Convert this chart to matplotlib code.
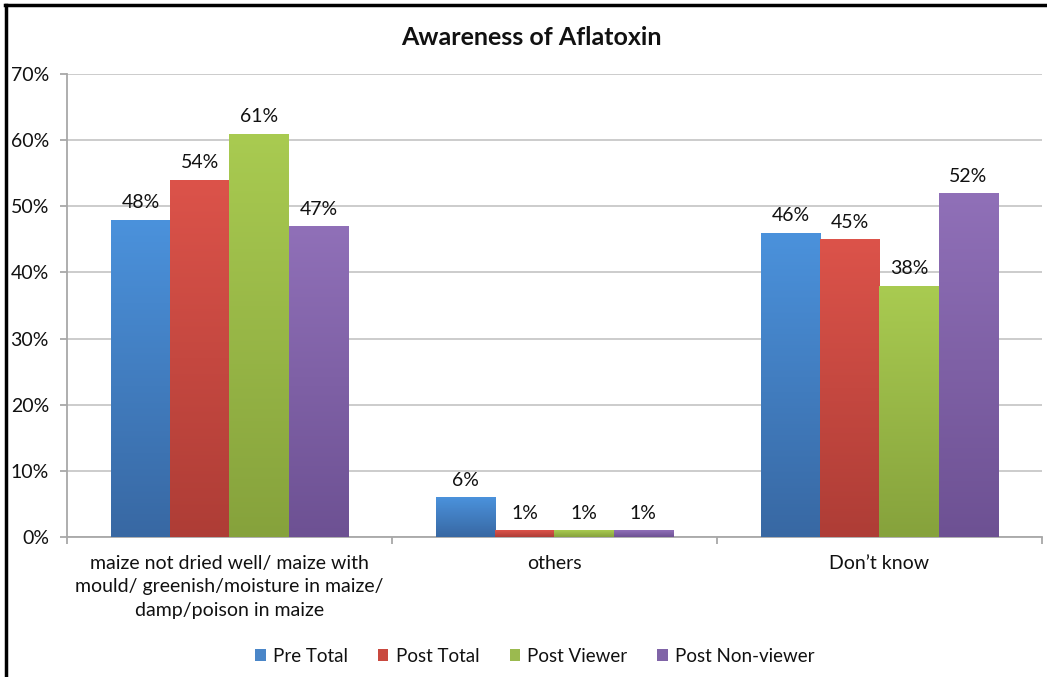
import numpy as np
import matplotlib
matplotlib.use("Agg")
import matplotlib.pyplot as plt
from matplotlib.colors import LinearSegmentedColormap
from matplotlib.patches import Patch
from matplotlib.lines import Line2D

plt.rcParams['font.family'] = ['Lato', 'DejaVu Sans']

title = "Awareness of Aflatoxin"
categories = ["maize not dried well/ maize with\nmould/ greenish/moisture in maize/\ndamp/poison in maize",
              "others", "Don\u2019t know"]
series_names = ["Pre Total", "Post Total", "Post Viewer", "Post Non-viewer"]
pre_total = [48, 6, 46]
post_total = [54, 1, 45]
post_viewer = [61, 1, 38]
post_nonviewer = [47, 1, 52]
yticks = [0, 10, 20, 30, 40, 50, 60, 70]

series_values = [pre_total, post_total, post_viewer, post_nonviewer]
top_colors = ["#4b92dc", "#dc534a", "#a9cb51", "#9070b8"]
bottom_colors = ["#3868a3", "#ae3d36", "#86a23c", "#6d5193"]
legend_colors = ["#4a86c8", "#c9493f", "#9bba4f", "#8064a7"]

fig = plt.figure(figsize=(10.47, 6.77), dpi=100)
ax = fig.add_axes([0.064, 0.2068, 0.931, 0.6839])

n = len(series_names)
width = 0.1825
x = np.arange(len(categories))
text_color = "#111111"
fs = 14

for i, (vals, tc, bc) in enumerate(zip(series_values, top_colors, bottom_colors)):
    offs = (i - (n - 1) / 2) * width
    bars = ax.bar(x + offs, vals, width, color=tc, zorder=3, linewidth=0)
    cmap = LinearSegmentedColormap.from_list("g%d" % i, [bc, tc])
    grad = np.linspace(0, 1, 256).reshape(-1, 1)
    for b, v in zip(bars, vals):
        bx, by = b.get_x(), b.get_y()
        bw, bh = b.get_width(), b.get_height()
        im = ax.imshow(grad, cmap=cmap, aspect='auto', origin='lower',
                       extent=[bx, bx + bw, by, by + bh], zorder=3.5,
                       interpolation='bilinear')
        im.set_clip_path(b)
        ax.annotate("%d%%" % v, (bx + bw / 2, by + bh), xytext=(0, 6),
                    textcoords="offset points", ha="center", va="bottom",
                    fontsize=fs, color=text_color, zorder=5)

ax.set_xlim(-0.5, len(categories) - 0.5)
ax.set_ylim(0, 70)
ax.set_yticks(yticks)
ax.set_yticklabels(["%d%%" % t for t in yticks], fontsize=fs, color=text_color)
ax.yaxis.grid(True, color="#c8c8c8", linewidth=1.3, zorder=0)
ax.set_axisbelow(True)

ax.set_xticks(x)
ax.set_xticklabels(categories, fontsize=fs, color=text_color, linespacing=1.45)
ax.set_xticks(np.arange(len(categories) + 1) - 0.5, minor=True)
ax.tick_params(axis='x', which='major', length=0, pad=13)
ax.tick_params(axis='x', which='minor', length=5, color="#a8a8a8", width=1.3)
ax.tick_params(axis='y', length=5, color="#a8a8a8", width=1.3, pad=8)

for s in ["top", "right"]:
    ax.spines[s].set_visible(False)
for s in ["left", "bottom"]:
    ax.spines[s].set_color("#a8a8a8")
    ax.spines[s].set_linewidth(1.3)

fig.text(0.508, 0.944, title, ha="center", va="center", fontsize=18,
         fontweight="bold", color=text_color)

handles = [Patch(facecolor=c, edgecolor="none") for c in legend_colors]
fig.legend(handles, series_names, loc="center", bbox_to_anchor=(0.511, 0.031),
           ncol=4, frameon=False, fontsize=13.5, handlelength=0.55,
           handleheight=0.55, handletextpad=0.4, columnspacing=1.6,
           labelcolor=text_color)

fig.add_artist(Line2D([0.005, 1.0], [0.9925, 0.9925], color="black", linewidth=2.5,
                      transform=fig.transFigure))
fig.add_artist(Line2D([0.0053, 0.0053], [0.0, 0.9925], color="black", linewidth=2.5,
                      transform=fig.transFigure))

fig.savefig("out.png", dpi=100)
